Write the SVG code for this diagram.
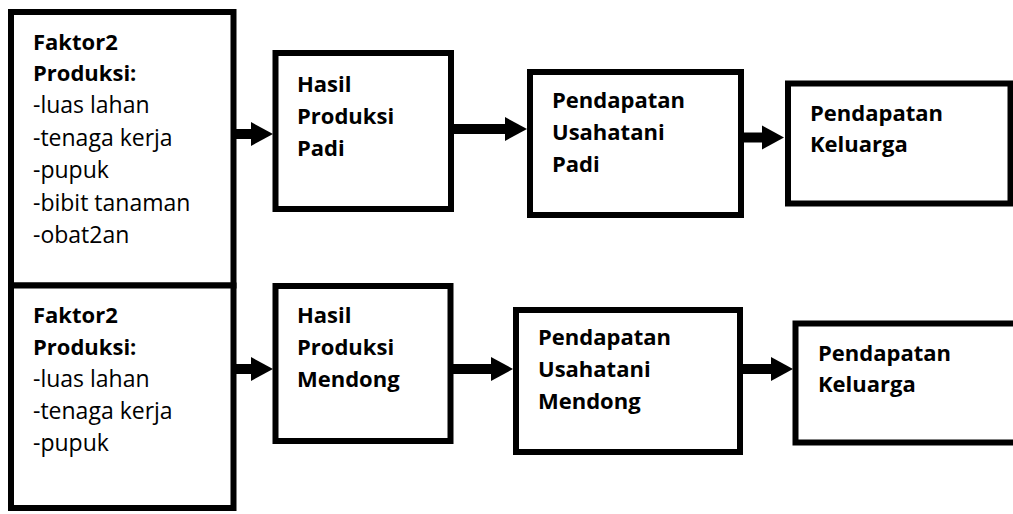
<svg xmlns="http://www.w3.org/2000/svg" width="1013" height="514" viewBox="0 0 1013 514">
<style>
.box{fill:#fff;stroke:#000;stroke-width:6}
.t{font-family:"Open Sans","Noto Sans","Liberation Sans",sans-serif;fill:#000}
.b{font-weight:bold;font-size:22px}
.r{font-size:23px}
.c{stroke:#000;stroke-width:10;fill:none;marker-end:url(#ah)}
</style>
<defs>
<marker id="ah" markerUnits="userSpaceOnUse" markerWidth="22" markerHeight="24" refX="0" refY="12" orient="auto" overflow="visible">
<path d="M0,0 L22,12 L0,24 Z" fill="#000"/>
</marker>
</defs>
<rect width="1013" height="514" fill="#fff"/>
<g id="faktor-padi">
<rect class="box" x="11" y="12" width="222.5" height="273.5"/>
<text class="t b" x="33" y="50">Faktor2</text>
<text class="t b" x="33" y="81">Produksi:</text>
<text class="t r" x="33" y="113">-luas lahan</text>
<text class="t r" x="33" y="146">-tenaga kerja</text>
<text class="t r" x="33" y="178">-pupuk</text>
<text class="t r" x="33" y="211">-bibit tanaman</text>
<text class="t r" x="33" y="243">-obat2an</text>
</g>
<g id="faktor-mendong">
<rect class="box" x="11" y="285.5" width="222.5" height="222.5"/>
<text class="t b" x="33" y="323">Faktor2</text>
<text class="t b" x="33" y="355">Produksi:</text>
<text class="t r" x="33" y="387">-luas lahan</text>
<text class="t r" x="33" y="419">-tenaga kerja</text>
<text class="t r" x="33" y="451">-pupuk</text>
</g>
<g id="hasil-padi">
<rect class="box" x="275.5" y="53" width="175.5" height="156"/>
<text class="t b" x="297" y="92">Hasil</text>
<text class="t b" x="297" y="124">Produksi</text>
<text class="t b" x="297" y="156">Padi</text>
</g>
<g id="pendapatan-padi">
<rect class="box" x="530" y="72" width="211" height="143"/>
<text class="t b" x="552" y="108">Pendapatan</text>
<text class="t b" x="552" y="140">Usahatani</text>
<text class="t b" x="552" y="172">Padi</text>
</g>
<g id="keluarga-padi">
<rect class="box" x="788" y="83.5" width="222.5" height="120"/>
<text class="t b" x="810" y="121">Pendapatan</text>
<text class="t b" x="810" y="152">Keluarga</text>
</g>
<g id="hasil-mendong">
<rect class="box" x="275.5" y="286" width="175" height="155"/>
<text class="t b" x="297" y="323">Hasil</text>
<text class="t b" x="297" y="355">Produksi</text>
<text class="t b" x="297" y="387">Mendong</text>
</g>
<g id="pendapatan-mendong">
<rect class="box" x="516" y="310" width="224" height="142"/>
<text class="t b" x="538" y="345">Pendapatan</text>
<text class="t b" x="538" y="377">Usahatani</text>
<text class="t b" x="538" y="409">Mendong</text>
</g>
<g id="keluarga-mendong">
<rect class="box" x="795.5" y="323.5" width="240" height="119"/>
<text class="t b" x="818" y="361">Pendapatan</text>
<text class="t b" x="818" y="392">Keluarga</text>
</g>
<g id="connectors">
<line class="c" x1="236" y1="134" x2="251" y2="134"/>
<line class="c" x1="454" y1="129" x2="505" y2="129"/>
<line class="c" x1="744" y1="137.5" x2="762" y2="137.5"/>
<line class="c" x1="236" y1="369" x2="251" y2="369"/>
<line class="c" x1="453" y1="369" x2="491" y2="369"/>
<line class="c" x1="742" y1="369" x2="771" y2="369"/>
</g>
</svg>
